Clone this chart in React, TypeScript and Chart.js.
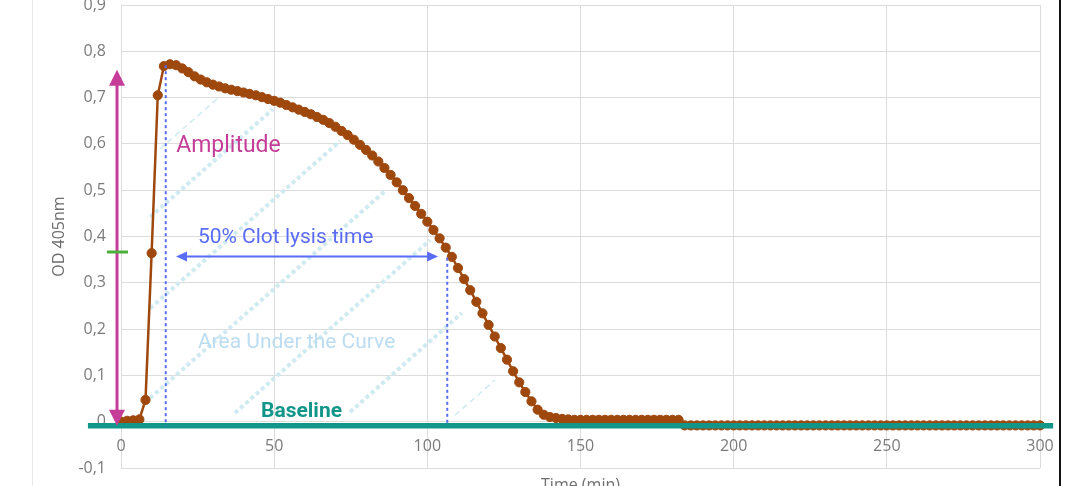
import React, { useEffect, useRef } from 'react';
import { Chart, registerables } from 'chart.js';

Chart.register(...registerables);

// ---- data ----
const TIME_MIN = [
  0, 2, 4, 6, 8, 10, 12, 14, 16, 18, 20, 22, 24, 26, 28, 30, 32, 34, 36, 38,
  40, 42, 44, 46, 48, 50, 52, 54, 56, 58, 60, 62, 64, 66, 68, 70, 72, 74, 76, 78,
  80, 82, 84, 86, 88, 90, 92, 94, 96, 98, 100, 102, 104, 106, 108, 110, 112, 114, 116, 118,
  120, 122, 124, 126, 128, 130, 132, 134, 136, 138, 140, 142, 144, 146, 148, 150, 152, 154, 156, 158,
  160, 162, 164, 166, 168, 170, 172, 174, 176, 178, 180, 182, 184, 186, 188, 190, 192, 194, 196, 198,
  200, 202, 204, 206, 208, 210, 212, 214, 216, 218, 220, 222, 224, 226, 228, 230, 232, 234, 236, 238,
  240, 242, 244, 246, 248, 250, 252, 254, 256, 258, 260, 262, 264, 266, 268, 270, 272, 274, 276, 278,
  280, 282, 284, 286, 288, 290, 292, 294, 296, 298, 300,
];

const OD_405 = [
  0.000, 0.002, 0.003, 0.005, 0.047, 0.364, 0.705, 0.768, 0.772, 0.770,
  0.763, 0.755, 0.746, 0.739, 0.733, 0.728, 0.724, 0.720, 0.717, 0.714,
  0.711, 0.708, 0.705, 0.701, 0.697, 0.693, 0.689, 0.684, 0.679, 0.674,
  0.669, 0.664, 0.658, 0.652, 0.645, 0.637, 0.628, 0.619, 0.609, 0.598,
  0.587, 0.575, 0.562, 0.548, 0.533, 0.517, 0.500, 0.483, 0.466, 0.449,
  0.432, 0.414, 0.396, 0.376, 0.356, 0.332, 0.308, 0.284, 0.259, 0.234,
  0.209, 0.184, 0.159, 0.134, 0.109, 0.085, 0.064, 0.044, 0.026, 0.015,
  0.010, 0.008, 0.006, 0.005, 0.004, 0.004, 0.004, 0.004, 0.004, 0.004,
  0.004, 0.004, 0.004, 0.004, 0.004, 0.004, 0.004, 0.004, 0.004, 0.004,
  0.004, 0.004, -0.008, -0.008, -0.008, -0.008, -0.008, -0.008, -0.008, -0.008,
  -0.008, -0.008, -0.008, -0.008, -0.008, -0.008, -0.008, -0.008, -0.008, -0.008,
  -0.008, -0.008, -0.008, -0.008, -0.008, -0.008, -0.008, -0.008, -0.008, -0.008,
  -0.008, -0.008, -0.008, -0.008, -0.008, -0.008, -0.008, -0.008, -0.008, -0.008,
  -0.008, -0.008, -0.008, -0.008, -0.008, -0.008, -0.008, -0.008, -0.008, -0.008,
  -0.008, -0.008, -0.008, -0.008, -0.008, -0.008, -0.008, -0.008, -0.008, -0.008,
  -0.008,
];

const BASELINE_X = [-10.8, 304.3];
const BASELINE_Y = -0.009;

const X_TITLE = 'Time (min)';
const Y_TITLE = 'OD 405nm';

// hatch lines of the "area under the curve" (data coordinates)
const HATCH_THICK = [
  [[9.5, 0.442], [49.6, 0.675]],
  [[9.5, 0.245], [71.5, 0.606]],
  [[9.5, 0.051], [86.2, 0.498]],
  [[37.2, 0.019], [100.9, 0.392]],
  [[74.8, 0.021], [111.3, 0.235]],
];
const HATCH_THIN = [
  [[12.7, 0.589], [31.7, 0.699]],
  [[109.0, 0.014], [122.1, 0.09]],
];

// annotation geometry (data coordinates)
const LYSIS_VERTICALS = [
  { t: 14.6, top: 0.77, bottom: -0.009 },
  { t: 106.5, top: 0.354, bottom: -0.009 },
];
const LYSIS_ARROW = { t0: 17.96, t1: 103.5, v: 0.357 };
const AMP_ARROW = { t: -1.3, v0: -0.009, v1: 0.76 };
const HALF_MARK = { t0: -4.57, t1: 2.28, v: 0.3665 };

const BROWN = '#9E480E';
const TEAL = '#13968A';
const MAGENTA = '#C53D98';
const BLUE = '#5A6CF5';
const GREEN = '#4CAF3A';
const HATCH = '#CFEBF1';
const AUC_TEXT = '#BCDCF1';

const LABELS = [
  { text: 'Amplitude', t: 18.0, v: 0.5825, size: 23, weight: 'normal', color: MAGENTA },
  { text: '50% Clot lysis time', t: 25.1, v: 0.386, size: 21, weight: 'normal', color: BLUE },
  { text: 'Area Under the Curve', t: 25.1, v: 0.159, size: 21, weight: 'normal', color: AUC_TEXT },
  { text: 'Baseline', t: 45.7, v: 0.01, size: 21, weight: 'bold', color: TEAL },
];

function arrowHead(ctx: CanvasRenderingContext2D, tipX: number, tipY: number, dx: number, dy: number, len: number, half: number) {
  const bx = tipX - dx * len;
  const by = tipY - dy * len;
  const nx = -dy;
  const ny = dx;
  ctx.beginPath();
  ctx.moveTo(tipX, tipY);
  ctx.lineTo(bx + nx * half, by + ny * half);
  ctx.lineTo(bx - nx * half, by - ny * half);
  ctx.closePath();
  ctx.fill();
}

function doubleArrow(ctx: CanvasRenderingContext2D, x0: number, y0: number, x1: number, y1: number, color: string, lw: number, len: number, half: number) {
  const L = Math.hypot(x1 - x0, y1 - y0);
  const dx = (x1 - x0) / L;
  const dy = (y1 - y0) / L;
  ctx.strokeStyle = color;
  ctx.fillStyle = color;
  ctx.lineWidth = lw;
  ctx.setLineDash([]);
  ctx.beginPath();
  ctx.moveTo(x0 + dx * (len - 1), y0 + dy * (len - 1));
  ctx.lineTo(x1 - dx * (len - 1), y1 - dy * (len - 1));
  ctx.stroke();
  arrowHead(ctx, x1, y1, dx, dy, len, half);
  arrowHead(ctx, x0, y0, -dx, -dy, len, half);
}

const annotationPlugin = {
  id: 'clotAnnotations',
  afterDatasetsDraw(chart: any) {
    const { ctx } = chart;
    const xs = chart.scales.x;
    const ys = chart.scales.y;
    const X = (v: number) => xs.getPixelForValue(v);
    const Y = (v: number) => ys.getPixelForValue(v);
    ctx.save();

    ctx.strokeStyle = BLUE;
    ctx.lineWidth = 2;
    ctx.setLineDash([3, 3]);
    for (const m of LYSIS_VERTICALS) {
      ctx.beginPath();
      ctx.moveTo(X(m.t), Y(m.top));
      ctx.lineTo(X(m.t), Y(m.bottom));
      ctx.stroke();
    }
    ctx.setLineDash([]);

    doubleArrow(ctx, X(LYSIS_ARROW.t0), Y(LYSIS_ARROW.v), X(LYSIS_ARROW.t1), Y(LYSIS_ARROW.v), BLUE, 2, 11, 5);
    doubleArrow(ctx, X(AMP_ARROW.t), Y(AMP_ARROW.v1), X(AMP_ARROW.t), Y(AMP_ARROW.v0), MAGENTA, 3, 16, 8);

    ctx.strokeStyle = GREEN;
    ctx.lineWidth = 3;
    ctx.beginPath();
    ctx.moveTo(X(HALF_MARK.t0), Y(HALF_MARK.v));
    ctx.lineTo(X(HALF_MARK.t1), Y(HALF_MARK.v));
    ctx.stroke();

    ctx.textAlign = 'left';
    ctx.textBaseline = 'alphabetic';
    for (const l of LABELS) {
      ctx.font = `${l.weight} ${l.size}px Roboto`;
      ctx.fillStyle = l.color;
      ctx.fillText(l.text, X(l.t), Y(l.v));
    }
    ctx.restore();
  },
};

export default function App() {
  const ref = useRef<HTMLCanvasElement | null>(null);

  useEffect(() => {
    if (!ref.current) return;
    const hatchSets = [
      ...HATCH_THICK.map((seg) => ({
        type: 'line' as const,
        data: seg.map(([x, y]) => ({ x, y })),
        borderColor: HATCH,
        borderWidth: 4,
        borderDash: [4, 3],
        borderCapStyle: 'butt' as const,
        pointRadius: 0,
        order: 2,
      })),
      ...HATCH_THIN.map((seg) => ({
        type: 'line' as const,
        data: seg.map(([x, y]) => ({ x, y })),
        borderColor: HATCH,
        borderWidth: 1.5,
        borderDash: [6, 4],
        pointRadius: 0,
        order: 2,
      })),
    ];

    const chart = new Chart(ref.current, {
      type: 'line',
      data: {
        datasets: [
          {
            label: 'Baseline',
            data: BASELINE_X.map((x) => ({ x, y: BASELINE_Y })),
            borderColor: TEAL,
            borderWidth: 5.5,
            borderCapStyle: 'butt',
            pointRadius: 0,
            clip: false,
            order: 0,
          },
          {
            label: 'OD 405nm',
            data: TIME_MIN.map((t, i) => ({ x: t, y: OD_405[i] })),
            borderColor: BROWN,
            backgroundColor: BROWN,
            borderWidth: 2.5,
            pointRadius: 4.6,
            pointBorderWidth: 1,
            pointBackgroundColor: BROWN,
            pointBorderColor: BROWN,
            tension: 0,
            clip: false,
            order: 1,
          },
          ...hatchSets,
        ] as any,
      },
      options: {
        animation: false,
        responsive: true,
        maintainAspectRatio: false,
        devicePixelRatio: 1,
        layout: { padding: { top: 25, right: 51, bottom: 73, left: 0 } },
        plugins: {
          legend: { display: false },
          tooltip: { enabled: false },
        },
        scales: {
          x: {
            type: 'linear',
            min: 0,
            max: 300,
            position: { y: 0 } as any,
            ticks: {
              stepSize: 50,
              padding: 15,
              color: '#7b7b7b',
              font: { family: 'Open Sans', size: 16 },
            },
            grid: { color: '#dcdcdc', lineWidth: 1, drawTicks: false },
            border: { display: false },
            title: {
              display: true,
              text: X_TITLE,
              color: '#6e6e6e',
              font: { family: 'Open Sans', size: 16 },
              padding: { top: 4, bottom: 0 },
            },
            afterFit: (scale: any) => {
              scale.height = 73;
            },
          },
          y: {
            type: 'linear',
            min: -0.1,
            max: 0.9,
            ticks: {
              stepSize: 0.1,
              padding: 15,
              color: '#7b7b7b',
              font: { family: 'Open Sans', size: 16 },
              callback: (v: any) => {
                const n = Number(v);
                if (Math.abs(n) < 1e-9) return '0';
                return n.toFixed(1).replace('.', ',');
              },
            },
            grid: { color: '#dcdcdc', lineWidth: 1, drawTicks: false },
            border: { display: false },
            title: {
              display: true,
              text: Y_TITLE,
              color: '#6e6e6e',
              font: { family: 'Open Sans', size: 16 },
              padding: { top: 50, bottom: 0 },
            },
            afterFit: (scale: any) => {
              scale.width = 121;
            },
          },
        },
      },
      plugins: [annotationPlugin],
    });
    return () => chart.destroy();
  }, []);

  return (
    <div style={{ position: 'fixed', left: 0, top: 0, right: 0, bottom: 0, overflow: 'hidden', background: '#fff' }}>
      <div style={{ position: 'absolute', left: 0, top: -20, width: 1091, height: 561 }}>
        <canvas ref={ref} />
      </div>
      <div style={{ position: 'absolute', left: 32, top: 0, width: 1, height: '100%', background: '#e8e8e8' }} />
      <div style={{ position: 'absolute', left: 1059, top: 0, width: 2, height: '100%', background: '#151515' }} />
    </div>
  );
}
